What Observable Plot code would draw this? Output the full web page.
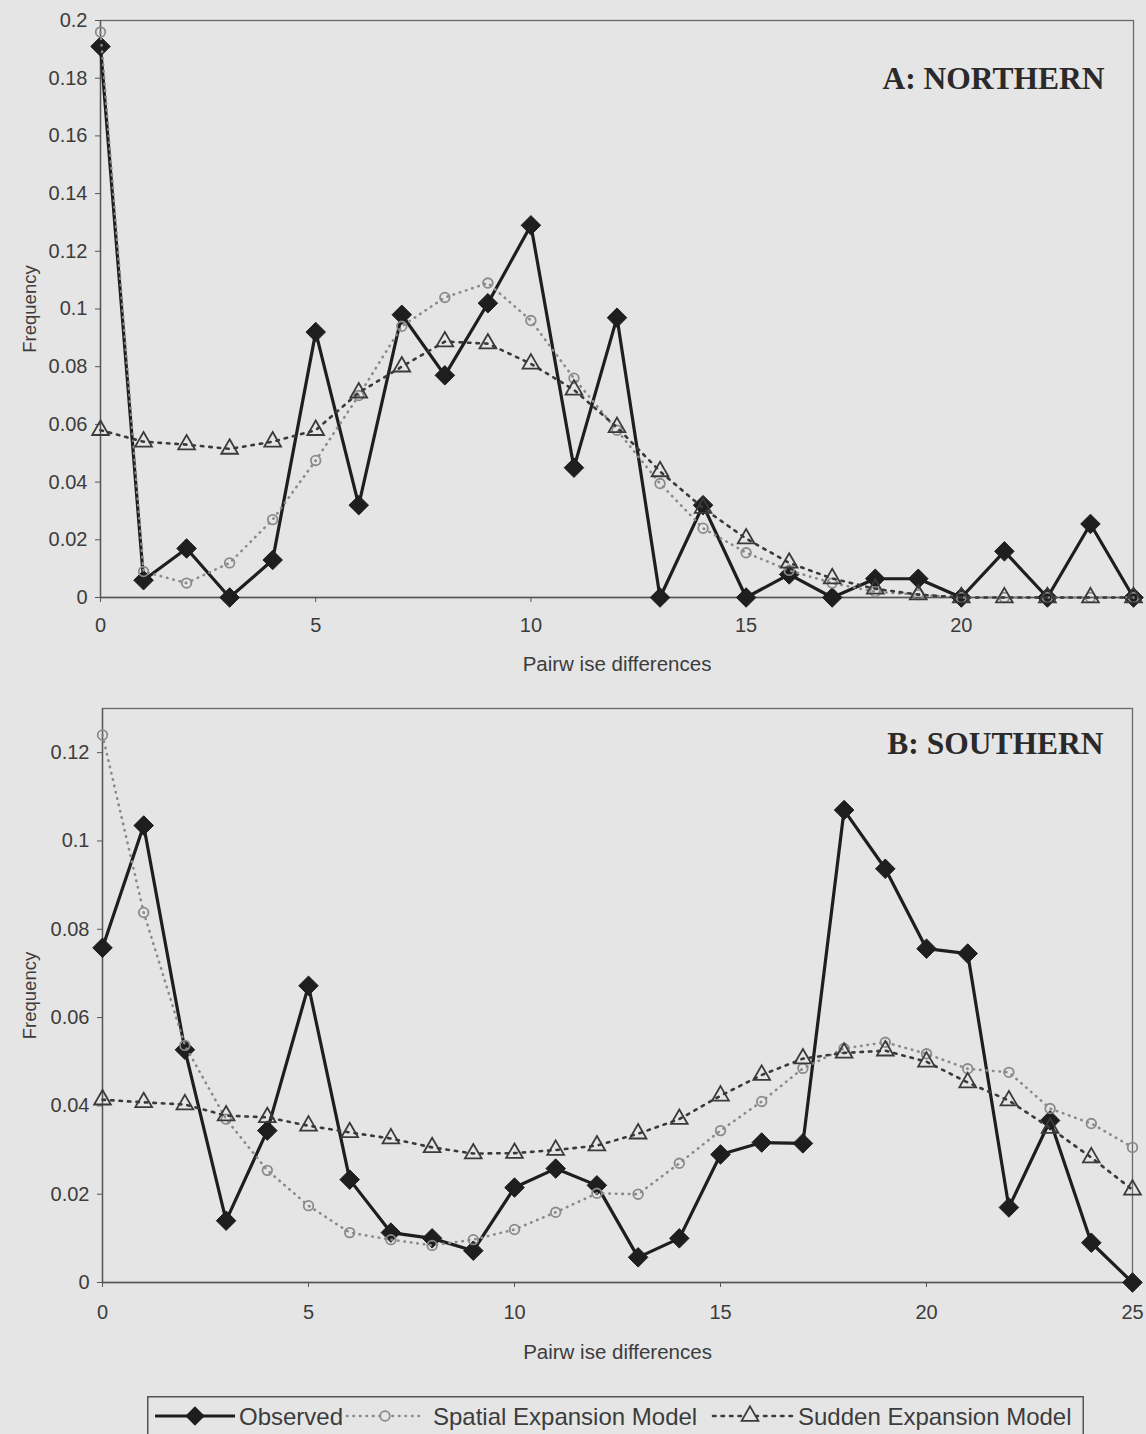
<!DOCTYPE html>
<html>
<head>
<meta charset="utf-8">
<script src="https://cdn.jsdelivr.net/npm/d3@7"></script>
<script src="https://cdn.jsdelivr.net/npm/@observablehq/plot@0.6"></script>
<style>
  html, body { margin: 0; padding: 0; background: #e5e5e5; }
  #wrap { position: relative; width: 1146px; height: 1434px; background: #e5e5e5; overflow: hidden; font-family: "Liberation Sans", Arial, sans-serif; }
  .panel { position: absolute; left: 0; }
  #legend { position: absolute; left: 147px; top: 1396px; }
</style>
</head>
<body>
<div id="wrap">
  <div id="panelA" class="panel" style="top:0px"></div>
  <div id="panelB" class="panel" style="top:680px"></div>
  <div id="legend"></div>
</div>
<script>
// ---------------- DATA ----------------
const seriesNames = ["Observed", "Spatial Expansion Model", "Sudden Expansion Model"];

const xA = d3.range(0, 25);          // pairwise differences 0..24 (panel A)
const obsA  = [0.191, 0.006, 0.017, 0, 0.013, 0.092, 0.032, 0.098, 0.077, 0.102, 0.129, 0.045, 0.097, 0, 0.032, 0, 0.008, 0, 0.0065, 0.0065, 0, 0.016, 0, 0.0255, 0];
const spatA = [0.196, 0.009, 0.005, 0.012, 0.027, 0.0475, 0.070, 0.094, 0.104, 0.109, 0.096, 0.076, 0.058, 0.0395, 0.024, 0.0155, 0.0094, 0.005, 0.002, 0.001, 0, 0, 0, 0, 0];
const suddA = [0.058, 0.054, 0.053, 0.0515, 0.054, 0.058, 0.071, 0.080, 0.0887, 0.088, 0.081, 0.072, 0.059, 0.0437, 0.031, 0.0204, 0.012, 0.0066, 0.003, 0.001, 0, 0, 0, 0, 0];

const xB = d3.range(0, 26);          // pairwise differences 0..25 (panel B)
const obsB  = [0.0758, 0.1035, 0.0527, 0.014, 0.0344, 0.0672, 0.0233, 0.0113, 0.010, 0.0072, 0.0215, 0.0258, 0.022, 0.0057, 0.010, 0.029, 0.0317, 0.0315, 0.107, 0.0937, 0.0756, 0.0745, 0.017, 0.0367, 0.009, 0];
const spatB = [0.124, 0.0838, 0.0537, 0.037, 0.0254, 0.0174, 0.0113, 0.0097, 0.0084, 0.0097, 0.012, 0.0159, 0.0202, 0.020, 0.027, 0.0344, 0.041, 0.0485, 0.053, 0.0544, 0.0518, 0.0484, 0.0476, 0.0394, 0.036, 0.0306];
const suddB = [0.0414, 0.0408, 0.0403, 0.0378, 0.0374, 0.0355, 0.034, 0.0326, 0.0306, 0.0292, 0.0293, 0.030, 0.031, 0.0337, 0.037, 0.0423, 0.047, 0.0507, 0.052, 0.0525, 0.050, 0.0453, 0.0412, 0.035, 0.0283, 0.021];

const yTicksA = [0, 0.02, 0.04, 0.06, 0.08, 0.1, 0.12, 0.14, 0.16, 0.18, 0.2];
const yTicksB = [0, 0.02, 0.04, 0.06, 0.08, 0.1, 0.12];
const xTicksA = [0, 5, 10, 15, 20];
const xTicksB = [0, 5, 10, 15, 20, 25];

const titles = ["A: NORTHERN", "B: SOUTHERN"];
const xLabel = "Pairw ise differences";
const yLabel = "Frequency";

// ---------------- STYLES ----------------
const C = {
  obs: "#1e1e1e",
  spat: "#8a8a8a",
  sudd: "#3a3a3a",
  axis: "#555",
  text: "#3c3c3c",
  bg: "#e5e5e5"
};

function rows(xs, ys) { return xs.map((x, i) => ({x, y: ys[i]})); }

function panel(opts) {
  const {xs, obs, spat, sudd, xDomain, yDomain, yTicks, xTicks, title,
         height, mTop, mBottom, mLeft, mRight, xTickPad, titleDy} = opts;
  const O = rows(xs, obs), S = rows(xs, spat), U = rows(xs, sudd);
  const fmt = d => d === 0 ? "0" : String(+d.toFixed(2));
  return Plot.plot({
    width: 1146,
    height,
    marginTop: mTop, marginBottom: mBottom, marginLeft: mLeft, marginRight: mRight,
    style: {background: "transparent", fontFamily: "'Liberation Sans', Arial, sans-serif", fontSize: "20px", color: C.text},
    x: {domain: xDomain},
    y: {domain: yDomain},
    marks: [
      Plot.frame({stroke: "#6a6a6a", strokeWidth: 1.3}),
      Plot.axisY({ticks: yTicks, tickFormat: fmt, tickSize: 5, tickPadding: 8, stroke: C.axis, fill: C.text,
                  label: null}),
      Plot.axisX({ticks: xTicks, tickFormat: d => String(d), tickSize: 5, tickPadding: xTickPad, stroke: C.axis, fill: C.text,
                  label: null}),
      Plot.ruleY([0], {stroke: C.axis, strokeWidth: 1.3}),
      Plot.ruleX([xDomain[0]], {stroke: C.axis, strokeWidth: 1.3}),
      Plot.text([yLabel], {frameAnchor: "left", dx: -mLeft + 30, rotate: -90, fontSize: 18.5, fill: C.text, textAnchor: "middle"}),
      Plot.text([xLabel], {frameAnchor: "bottom", dy: opts.xLabelDy, fontSize: 20.5, fill: C.text, textAnchor: "middle", lineAnchor: "middle"}),
      Plot.text([title], {frameAnchor: "top-right", dx: -29, dy: titleDy, fontSize: 31.5, fontWeight: "bold",
                          fontFamily: "'Liberation Serif', 'Times New Roman', serif", fill: "#2a2a2a", textAnchor: "end", lineAnchor: "middle"}),
      // Observed
      Plot.line(O, {x: "x", y: "y", stroke: C.obs, strokeWidth: 3.2}),
      Plot.dot(O, {x: "x", y: "y", symbol: "diamond2", r: 8.8, fill: C.obs, stroke: C.obs, strokeWidth: 1}),
      // Spatial expansion model
      Plot.line(S, {x: "x", y: "y", stroke: C.spat, strokeWidth: 2.6, strokeDasharray: "0.5 6", strokeLinecap: "round"}),
      Plot.dot(S, {x: "x", y: "y", symbol: "circle", r: 4.8, fill: "none", stroke: C.spat, strokeWidth: 1.8}),
      // Sudden expansion model
      Plot.line(U, {x: "x", y: "y", stroke: C.sudd, strokeWidth: 2.6, strokeDasharray: "2.5 6", strokeLinecap: "round"}),
      Plot.dot(U, {x: "x", y: "y", symbol: "triangle", r: 6.2, fill: "none", stroke: C.sudd, strokeWidth: 1.8})
    ]
  });
}

document.getElementById("panelA").appendChild(panel({
  xs: xA, obs: obsA, spat: spatA, sudd: suddA,
  xDomain: [0, 24], yDomain: [0, 0.2], yTicks: yTicksA, xTicks: xTicksA, title: titles[0],
  height: 680, mTop: 20, mBottom: 83, mLeft: 100, mRight: 13, xTickPad: 15, xLabelDy: 67, titleDy: 58
}));

document.getElementById("panelB").appendChild(panel({
  xs: xB, obs: obsB, spat: spatB, sudd: suddB,
  xDomain: [0, 25], yDomain: [0, 0.13], yTicks: yTicksB, xTicks: xTicksB, title: titles[1],
  height: 700, mTop: 28, mBottom: 98, mLeft: 102, mRight: 14, xTickPad: 17, xLabelDy: 70, titleDy: 35
}));

// ---------------- LEGEND ----------------
(function legend() {
  const W = 937, H = 50;
  const svg = d3.create("svg").attr("width", W).attr("height", H)
    .style("font-family", "'Liberation Sans', Arial, sans-serif").style("font-size", "24px");
  svg.append("rect").attr("x", 0.75).attr("y", 0.75).attr("width", W - 1.5).attr("height", H)
    .attr("fill", "none").attr("stroke", "#555").attr("stroke-width", 1.5);
  const cy = 20;
  // Observed
  svg.append("line").attr("x1", 8).attr("x2", 88).attr("y1", cy).attr("y2", cy).attr("stroke", C.obs).attr("stroke-width", 3.2);
  svg.append("path").attr("d", d3.symbol(d3.symbolDiamond2, Math.PI * 8.8 * 8.8)()).attr("transform", `translate(48,${cy})`).attr("fill", C.obs);
  svg.append("text").attr("x", 92).attr("y", cy + 8.5).attr("fill", C.text).text(seriesNames[0]);
  // Spatial
  svg.append("line").attr("x1", 200).attr("x2", 276).attr("y1", cy).attr("y2", cy).attr("stroke", C.spat).attr("stroke-width", 2.6)
    .attr("stroke-dasharray", "0.5 6").attr("stroke-linecap", "round");
  svg.append("circle").attr("cx", 238).attr("cy", cy).attr("r", 4.8).attr("fill", C.bg).attr("stroke", C.spat).attr("stroke-width", 1.8);
  svg.append("text").attr("x", 286).attr("y", cy + 8.5).attr("fill", C.text).text(seriesNames[1]);
  // Sudden
  svg.append("line").attr("x1", 566).attr("x2", 646).attr("y1", cy).attr("y2", cy).attr("stroke", C.sudd).attr("stroke-width", 2.6)
    .attr("stroke-dasharray", "2.5 6").attr("stroke-linecap", "round");
  svg.append("path").attr("d", d3.symbol(d3.symbolTriangle, Math.PI * 6.2 * 6.2)()).attr("transform", `translate(603,${cy})`)
    .attr("fill", C.bg).attr("stroke", C.sudd).attr("stroke-width", 1.8);
  svg.append("text").attr("x", 651).attr("y", cy + 8.5).attr("fill", C.text).text(seriesNames[2]);
  document.getElementById("legend").appendChild(svg.node());
})();
</script>
</body>
</html>
